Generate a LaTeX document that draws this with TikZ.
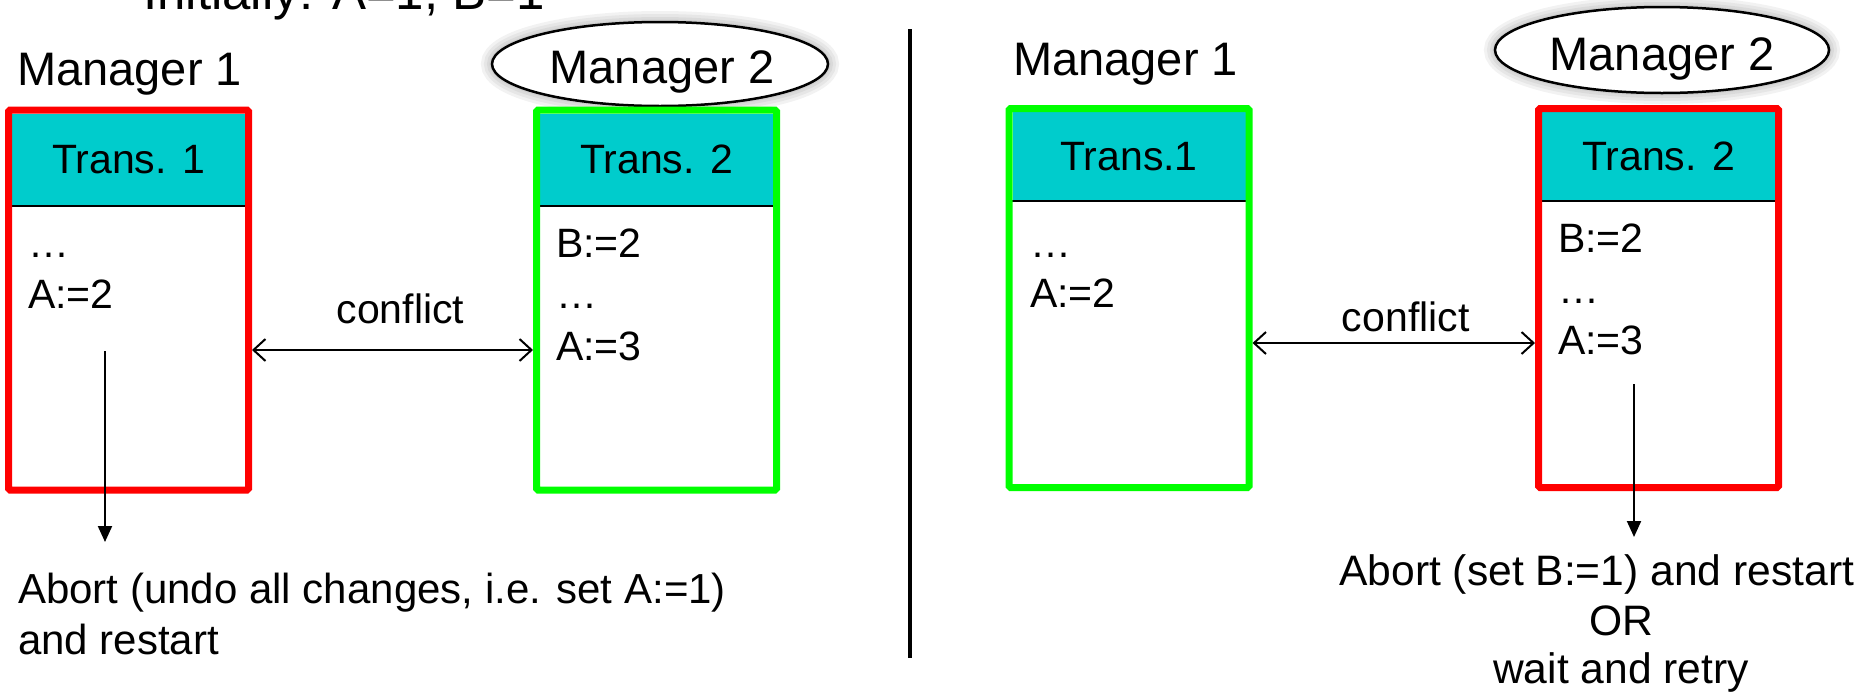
\documentclass[tikz,border=0pt]{standalone}
\usepackage{fontspec}
\setmainfont{Liberation Sans}
\usetikzlibrary{arrows.meta,shapes.geometric}

\definecolor{hdrteal}{RGB}{0,204,204}
\definecolor{boxred}{RGB}{255,0,0}
\definecolor{boxgreen}{RGB}{0,255,0}

\begin{document}
\begin{tikzpicture}[x=1pt,y=-1pt,
  txt/.style={inner sep=0pt, font=\fontsize{41}{50}\selectfont},
  mgr/.style={inner sep=0pt, font=\fontsize{47}{56}\selectfont},
  note/.style={inner sep=0pt, font=\fontsize{42}{51}\selectfont},
  tbox/.style={draw=#1, line width=7pt, rounded corners=1.5pt,
    minimum width=240pt, inner sep=0pt},
  hdr/.style={fill=hdrteal, minimum width=233pt, inner sep=0pt,
    font=\fontsize{41}{50}\selectfont},
  hline/.style={line width=2.5pt},
  conf/.style={line width=2pt, {Straight Barb[length=12pt,width=22pt,line width=2pt]}-{Straight Barb[length=12pt,width=22pt,line width=2pt]}},
  down/.style={line width=2pt, -{Triangle[length=16pt,width=14pt]}},
  mgrring/.style={ellipse, draw=black, line width=2.5pt, fill=white, inner sep=0pt},
  glow/.style={draw=black, opacity=0.05},
  divider/.style={line width=4pt}
]
\useasboundingbox (0,0) rectangle (1862,691);

% ---------------- left scenario ----------------
\node[txt, anchor=base west, font=\fontsize{51}{60}\selectfont] (init) at (143,9) {Initially: A=1, B=1};

\node[mgr, anchor=base west] (lm1) at (17,85) {Manager 1};
\foreach \w in {22,16,10,5}
  \draw[glow, line width=\w pt] (660,64) ellipse [x radius=168pt, y radius=42pt];
\node[mgrring, minimum width=336pt, minimum height=84pt] (lm2e) at (660,64) {};
\node[mgr, anchor=base] (lm2) at (662,83) {Manager 2};

% transaction boxes: header first, frame on top
\node[hdr, minimum height=92.5pt] (lh1) at (128.5,159.75) {Trans. 1};
\node[hdr, minimum height=92.5pt] (lh2) at (656.5,159.75) {Trans. 2};
\draw[hline] (lh1.south west) -- (lh1.south east);
\draw[hline] (lh2.south west) -- (lh2.south east);
\node[tbox=boxred, minimum height=380pt] (lb1) at (128.5,300) {};
\node[tbox=boxgreen, minimum height=380pt] (lb2) at (656.5,300) {};

\node[txt, anchor=base west] (l1a) at (28,257) {…};
\node[txt, anchor=base west] (l1b) at (28,308) {A:=2};
\node[txt, anchor=base west] (l2a) at (556,257) {B:=2};
\node[txt, anchor=base west] (l2b) at (556,308) {…};
\node[txt, anchor=base west] (l2c) at (556,360) {A:=3};

\coordinate (lc) at (392,350);
\draw[conf] (lb1.east |- lc) -- (lb2.west |- lc)
  node[txt, pos=0.5, anchor=base, xshift=8pt, yshift=27pt] (lconf) {conflict};

\coordinate (lds) at (105,351);
\coordinate (lde) at (105,542);
\draw[down] (lds) -- (lde);
% the base anchor of a two-line node sits on its last line
\node[note, anchor=base west, align=left] (labort) at (18,654)
  {Abort (undo all changes, i.e. set A:=1)\\and restart};

% ---------------- divider ----------------
\coordinate (dtop) at (910,29);
\coordinate (dbot) at (910,658);
\draw[divider] (dtop) -- (dbot);

% ---------------- right scenario ----------------
\node[mgr, anchor=base west] (rm1) at (1013,75) {Manager 1};
\foreach \w in {22,16,10,5}
  \draw[glow, line width=\w pt] (1662,50) ellipse [x radius=167pt, y radius=43pt];
\node[mgrring, minimum width=334pt, minimum height=86pt] (rm2e) at (1662,50) {};
\node[mgr, anchor=base] (rm2) at (1662,70) {Manager 2};

\node[hdr, minimum height=89pt] (rh1) at (1129,156.5) {Trans.1};
\node[hdr, minimum height=89pt] (rh2) at (1658.5,156.5) {Trans. 2};
\draw[hline] (rh1.south west) -- (rh1.south east);
\draw[hline] (rh2.south west) -- (rh2.south east);
\node[tbox=boxgreen, minimum height=379pt] (rb1) at (1129,298) {};
\node[tbox=boxred, minimum height=379pt] (rb2) at (1658.5,298) {};

\node[txt, anchor=base west] (r1a) at (1030,257) {…};
\node[txt, anchor=base west] (r1b) at (1030,307) {A:=2};
\node[txt, anchor=base west] (r2a) at (1558,252) {B:=2};
\node[txt, anchor=base west] (r2b) at (1558,303) {…};
\node[txt, anchor=base west] (r2c) at (1558,354) {A:=3};

\coordinate (rc) at (1393,343);
\draw[conf] (rb1.east |- rc) -- (rb2.west |- rc)
  node[txt, pos=0.5, anchor=base, xshift=12pt, yshift=12pt] (rconf) {conflict};

\coordinate (rds) at (1634,384);
\coordinate (rde) at (1634,537);
\draw[down] (rds) -- (rde);
\node[note, anchor=base west, font=\fontsize{42.6}{51}\selectfont] (rabort) at (1339,585)
  {Abort (set B:=1) and restart};
\node[note, anchor=base, align=center, font=\fontsize{42.6}{48}\selectfont] (ror) at (1621,683)
  {OR\\wait and retry};
\end{tikzpicture}
\end{document}
